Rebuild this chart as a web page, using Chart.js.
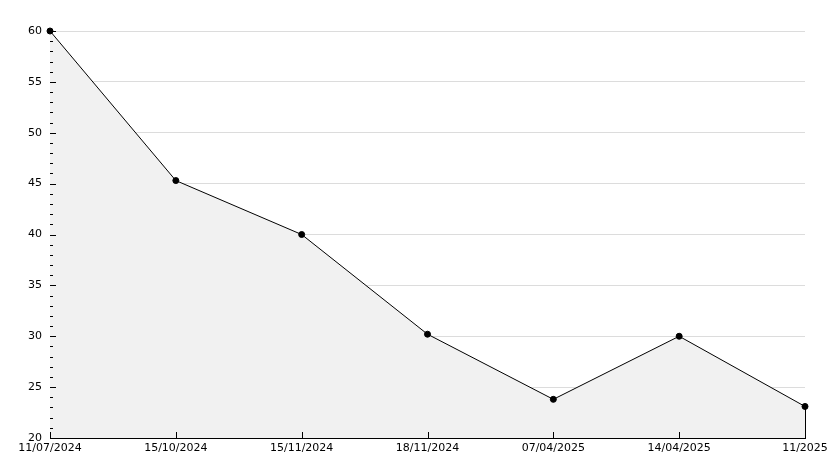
<!DOCTYPE html>
<html>
<head>
<meta charset="utf-8">
<script src="https://cdn.jsdelivr.net/npm/chart.js@4"></script>
<style>
  html, body { margin: 0; padding: 0; background: #fff; }
  #wrap { width: 834px; height: 468px; }
</style>
</head>
<body>
<div id="wrap"><canvas id="chart"></canvas></div>
<script>
// data
const dates = ['11/07/2024', '15/10/2024', '15/11/2024', '18/11/2024', '07/04/2025', '14/04/2025', '11/2025'];
const values = [60, 45.3, 40, 30.2, 23.8, 30, 23.1];
const yMin = 20;
const yMax = 60;

// small ticks along the axes, drawn inside the plot like the original
const axisTicks = {
    id: 'axisTicks',
    afterDatasetsDraw(chart) {
        const ctx = chart.ctx;
        const x = chart.scales.x;
        const y = chart.scales.y;
        const area = chart.chartArea;
        ctx.save();
        ctx.strokeStyle = '#000';
        ctx.lineWidth = 1;
        ctx.beginPath();
        for (let v = yMin; v <= yMax; v++) {
            const py = Math.round(y.getPixelForValue(v)) + 0.5;
            const len = v % 5 === 0 ? 6 : 3;
            ctx.moveTo(area.left, py);
            ctx.lineTo(area.left + len, py);
        }
        dates.forEach((d, i) => {
            const px = Math.round(x.getPixelForValue(i)) + 0.5;
            ctx.moveTo(px, area.bottom);
            ctx.lineTo(px, area.bottom - 6);
        });
        // closing edge of the filled area at the last point
        const last = chart.getDatasetMeta(0).data[values.length - 1];
        const lx = Math.round(last.x) + 0.5;
        ctx.moveTo(lx, last.y);
        ctx.lineTo(lx, area.bottom);
        ctx.stroke();
        ctx.restore();
    }
};

const ctx = document.getElementById('chart').getContext('2d');
new Chart(ctx, {
    type: 'line',
    data: {
        labels: dates,
        datasets: [{
            data: values,
            borderColor: '#000',
            borderWidth: 1,
            backgroundColor: '#f1f1f1',
            fill: 'start',
            tension: 0,
            clip: false,
            pointRadius: 3,
            pointBackgroundColor: '#000',
            pointBorderColor: '#000',
            pointBorderWidth: 1
        }]
    },
    options: {
        responsive: true,
        maintainAspectRatio: false,
        animation: false,
        layout: { padding: { top: 31, right: 29, bottom: 0, left: 0 } },
        plugins: {
            legend: { display: false },
            tooltip: { enabled: false }
        },
        scales: {
            x: {
                offset: false,
                grid: { display: false, drawTicks: false },
                border: { color: '#000', width: 1 },
                ticks: {
                    color: '#000',
                    font: { family: 'DejaVu Sans', size: 11 },
                    maxRotation: 0,
                    autoSkip: false,
                    padding: 4
                },
                afterFit(scale) { scale.height = 30; }
            },
            y: {
                min: yMin,
                max: yMax,
                grid: { color: '#dcdcdc', drawTicks: false },
                border: { color: '#000', width: 1 },
                ticks: {
                    stepSize: 5,
                    color: '#000',
                    font: { family: 'DejaVu Sans', size: 11 },
                    padding: 8
                },
                afterFit(scale) { scale.width = 50; }
            }
        }
    },
    plugins: [axisTicks]
});
</script>
</body>
</html>
